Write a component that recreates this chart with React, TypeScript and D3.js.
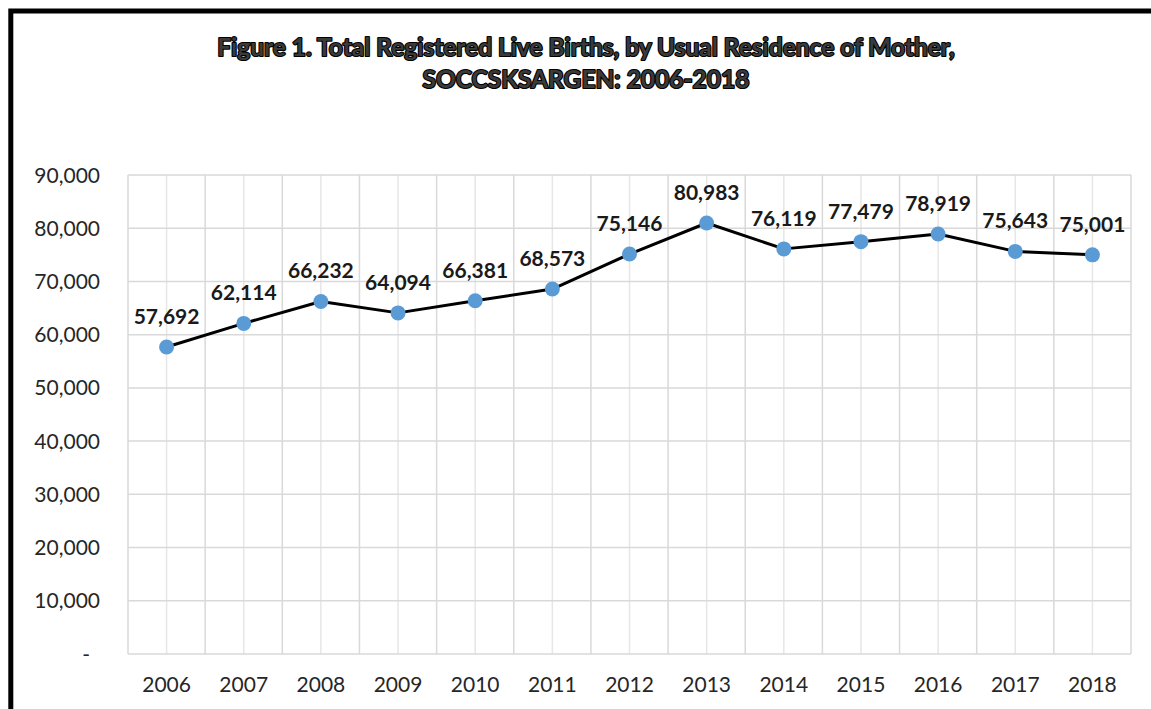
import React from "react";
import * as d3 from "d3";

const years = ["2006","2007","2008","2009","2010","2011","2012","2013","2014","2015","2016","2017","2018"];
const births = [57692, 62114, 66232, 64094, 66381, 68573, 75146, 80983, 76119, 77479, 78919, 75643, 75001];
const yTicks = [0, 10000, 20000, 30000, 40000, 50000, 60000, 70000, 80000, 90000];
const titleLines = [
  "Figure 1. Total Registered Live Births, by Usual Residence of Mother,",
  "SOCCSKSARGEN: 2006-2018",
];

const W = 1151, H = 709;
const plot = { left: 128, right: 1131, top: 175, bottom: 654 };
const FONT = "Lato, 'Open Sans', sans-serif";

export default function App() {
  const x = d3.scaleBand<string>().domain(years).range([plot.left, plot.right]).padding(0);
  const y = d3.scaleLinear().domain([0, 90000]).range([plot.bottom, plot.top]);
  const cx = (d: string) => (x(d) as number) + x.bandwidth() / 2;
  const fmt = d3.format(",");
  const line = d3.line<number>().x((_, i) => cx(years[i])).y((v) => y(v));

  return (
    <svg width={W} height={H} style={{ position: "absolute", left: 0, top: 0, background: "#fff" }}>
      <rect x={0} y={0} width={W} height={H} fill="#fff" />
      {/* frame */}
      <rect x={10.8} y={11} width={1200} height={800} fill="none" stroke="#000" strokeWidth={5} />
      {/* title */}
      {titleLines.map((t, i) => (
        <text key={i} x={586} y={56 + i * 32} textAnchor="middle" fontFamily={FONT} fontWeight={700}
          fontSize={24.5} fill="#3a3a3a" stroke="#000" strokeWidth={2.2} paintOrder="stroke" strokeLinejoin="round">
          {t}
        </text>
      ))}
      {/* minor vertical grid (category centers) */}
      {years.map((d) => (
        <line key={"m" + d} x1={cx(d)} x2={cx(d)} y1={plot.top} y2={plot.bottom} stroke="#e6e6e6" strokeWidth={1.5} />
      ))}
      {/* major vertical grid (category boundaries) */}
      {years.map((d) => (
        <line key={"v" + d} x1={x(d) as number} x2={x(d) as number} y1={plot.top} y2={plot.bottom} stroke="#d9d9d9" strokeWidth={1.5} />
      ))}
      <line x1={plot.right} x2={plot.right} y1={plot.top} y2={plot.bottom} stroke="#d9d9d9" strokeWidth={1.5} />
      {/* horizontal grid */}
      {yTicks.map((t) => (
        <line key={"h" + t} x1={plot.left} x2={plot.right} y1={y(t)} y2={y(t)} stroke="#d9d9d9" strokeWidth={1.5} />
      ))}
      {/* y labels */}
      {yTicks.map((t) => (
        <text key={"yl" + t} x={t === 0 ? 90 : 100} y={y(t) + 7.5} textAnchor="end" fontFamily={FONT} fontSize={21}
          fill="#262626">
          {t === 0 ? "-" : fmt(t)}
        </text>
      ))}
      {/* x labels */}
      {years.map((d) => (
        <text key={"xl" + d} x={cx(d)} y={692} textAnchor="middle" fontFamily={FONT} fontSize={21} fill="#262626">
          {d}
        </text>
      ))}
      {/* line */}
      <path d={line(births) as string} fill="none" stroke="#000" strokeWidth={3} strokeLinejoin="round" />
      {births.map((v, i) => (
        <circle key={"c" + i} cx={cx(years[i])} cy={y(v)} r={7.5} fill="#5b9bd5" />
      ))}
      {births.map((v, i) => (
        <text key={"dl" + i} x={cx(years[i])} y={y(v) - 23} textAnchor="middle" fontFamily={FONT} fontWeight={700}
          fontSize={21} fill="#1a1a1a">
          {fmt(v)}
        </text>
      ))}
    </svg>
  );
}
